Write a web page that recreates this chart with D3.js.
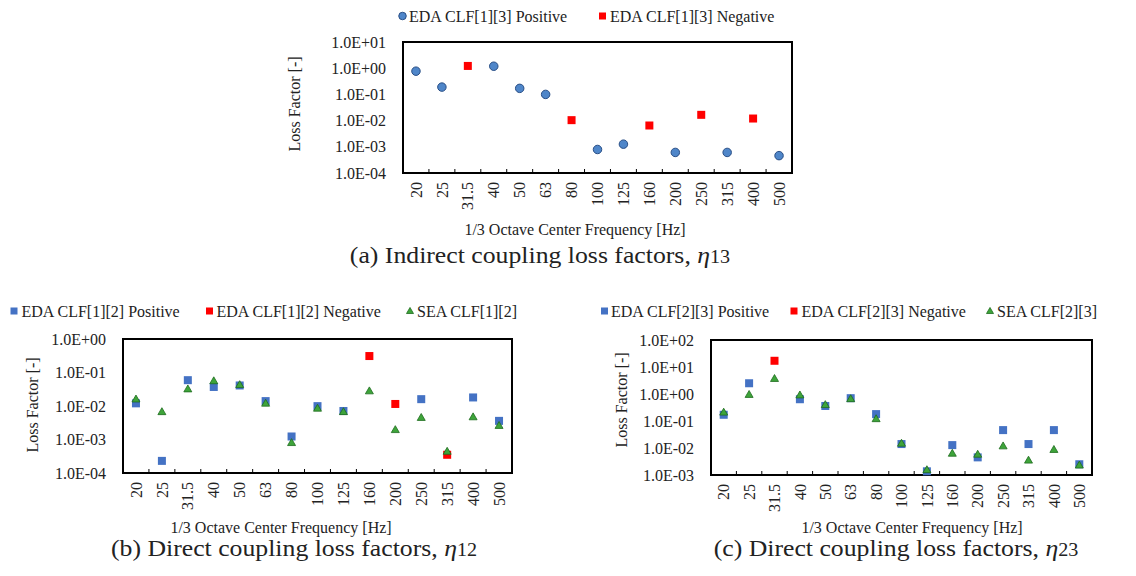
<!DOCTYPE html>
<html>
<head>
<meta charset="utf-8">
<script src="https://cdn.jsdelivr.net/npm/d3@7"></script>
<style>
  body { margin: 0; background: #fff; }
  text { font-family: "Liberation Serif", "Times New Roman", serif; fill: #222; }
</style>
</head>
<body>
<script>
// 1/3 octave bands
const freqs = ["20", "25", "31.5", "40", "50", "63", "80", "100", "125", "160", "200", "250", "315", "400", "500"];

// (a) eta13 - null where the band has no point of that kind
const eda13Pos = [0.77, 0.19, null, 1.19, 0.17, 0.10, null, 7.9e-4, 1.26e-3, null, 6.1e-4, null, 6.1e-4, null, 4.6e-4];
const eda13Neg = [null, null, 1.22, null, null, null, 0.0104, null, null, 0.0065, null, 0.0166, null, 0.012, null];

// (b) eta12
const eda12Pos = [0.012, 2.3e-4, 0.059, 0.037, 0.041, 0.014, 1.23e-3, 0.0099, 0.0071, null, null, 0.016, null, 0.018, 0.0036];
const eda12Neg = [null, null, null, null, null, null, null, null, null, 0.31, 0.0115, null, 3.5e-4, null, null];
const sea12 = [0.016, 0.0067, 0.032, 0.056, 0.043, 0.012, 8.0e-4, 0.0085, 0.0067, 0.028, 1.95e-3, 0.0045, 4.4e-4, 0.0047, 0.0026];

// (c) eta23
const eda23Pos = [0.17, 2.5, null, 0.64, 0.36, 0.70, 0.18, 0.014, 1.37e-3, 0.0128, 0.0045, 0.046, 0.014, 0.046, 0.0025];
const eda23Neg = [null, null, 17, null, null, null, null, null, null, null, null, null, null, null, null];
const sea23 = [0.21, 0.95, 3.7, 0.91, 0.40, 0.66, 0.12, 0.0148, 1.55e-3, 0.0063, 0.0058, 0.0118, 0.0035, 0.0087, 0.0023];

const svg = d3.select("body").append("svg")
  .attr("width", 1136)
  .attr("height", 576);

function fmtE(d) {
  const e = Math.round(Math.log10(d));
  return "1.0E" + (e < 0 ? "-" : "+") + String(Math.abs(e)).padStart(2, "0");
}

function marker(g, kind, cx, cy, s) {
  if (kind == "circle") {
    g.append("circle").attr("cx", cx).attr("cy", cy).attr("r", s / 2)
      .attr("fill", "#4f86c9").attr("stroke", "#2a4f86").attr("stroke-width", 1);
  } else if (kind == "blue") {
    g.append("rect").attr("x", cx - s / 2).attr("y", cy - s / 2).attr("width", s).attr("height", s)
      .attr("fill", "#4472c4");
  } else if (kind == "red") {
    g.append("rect").attr("x", cx - s / 2).attr("y", cy - s / 2).attr("width", s).attr("height", s)
      .attr("fill", "#ff0000");
  } else {
    // equilateral triangle, s = side
    g.append("path")
      .attr("d", d3.symbol().type(d3.symbolTriangle).size(0.433 * s * s)())
      .attr("transform", "translate(" + cx + "," + (cy + 0.5) + ")")
      .attr("fill", "#3ea43a").attr("stroke", "#1d6b1d").attr("stroke-width", 0.8);
  }
}

function drawPanel(p) {
  const g = svg.append("g");
  const x = d3.scaleBand().domain(freqs).range([p.x0, p.x1]).padding(0);
  const y = d3.scaleLog().domain(p.ydom).range([p.y1, p.y0]);
  const decades = d3.range(Math.log10(p.ydom[0]), Math.log10(p.ydom[1]) + 1).map(e => Math.pow(10, e));

  // y tick labels
  const ya = g.append("g").attr("transform", "translate(" + (p.x0 - 14) + ",0)")
    .call(d3.axisLeft(y).tickValues(decades).tickFormat(fmtE).tickSize(0));
  ya.select(".domain").remove();
  ya.selectAll("text").attr("font-size", 16).attr("font-family", "Liberation Serif").attr("fill", "#222");

  // x tick labels, rotated
  const xa = g.append("g").attr("transform", "translate(0," + (p.y1 + 9) + ")")
    .call(d3.axisBottom(x).tickSize(0));
  xa.select(".domain").remove();
  xa.selectAll("text")
    .attr("font-size", 16).attr("font-family", "Liberation Serif").attr("fill", "#222")
    .attr("transform", "rotate(-90)")
    .attr("text-anchor", "end")
    .attr("x", 0).attr("y", 0).attr("dy", "0.35em");

  // category boundary ticks, pointing in
  g.selectAll(".bt").data(freqs.slice(1)).join("line")
    .attr("x1", d => x(d)).attr("x2", d => x(d))
    .attr("y1", p.y1).attr("y2", p.y1 - 4)
    .attr("stroke", "#000").attr("stroke-width", 1);

  g.append("rect")
    .attr("x", p.x0).attr("y", p.y0)
    .attr("width", p.x1 - p.x0).attr("height", p.y1 - p.y0)
    .attr("fill", "none").attr("stroke", "#000").attr("stroke-width", 2);

  // series
  p.series.forEach(s => {
    s.values.forEach((v, i) => {
      if (v == null) return;
      marker(g, s.kind, x(freqs[i]) + x.bandwidth() / 2, y(v), s.size);
    });
  });

  // legend
  p.legend.forEach(l => {
    marker(g, l.kind, l.mx, p.ly, l.kind == "circle" ? 7.5 : 7);
    g.append("text").attr("x", l.tx).attr("y", p.ly + 5.5)
      .attr("font-size", 16).text(l.label);
  });

  g.append("text")
    .attr("transform", "translate(" + p.ylx + "," + p.yly + ") rotate(-90)")
    .attr("text-anchor", "middle").attr("font-size", 16)
    .text("Loss Factor [-]");

  g.append("text")
    .attr("x", p.xlx).attr("y", p.xly)
    .attr("text-anchor", "middle").attr("font-size", 16)
    .text("1/3 Octave Center Frequency [Hz]");

  // caption: the original face is wider than Liberation Serif, so stretch a bit
  const cap = g.append("text")
    .attr("transform", "translate(" + p.capx + "," + p.capy + ") scale(1.12,1)")
    .attr("text-anchor", "middle").attr("font-size", 23).attr("fill", "#111");
  cap.append("tspan").text(p.caption);
  cap.append("tspan").attr("font-style", "italic").text("η");
  cap.append("tspan").attr("font-size", 18).text(p.sub);
}

drawPanel({
  x0: 403, x1: 792, y0: 42, y1: 173, ydom: [1e-4, 1e1],
  series: [
    { kind: "circle", values: eda13Pos, size: 8.5 },
    { kind: "red", values: eda13Neg, size: 8 }
  ],
  ly: 16,
  legend: [
    { kind: "circle", mx: 402.5, tx: 409, label: "EDA CLF[1][3] Positive" },
    { kind: "red", mx: 602.5, tx: 610, label: "EDA CLF[1][3] Negative" }
  ],
  ylx: 300, yly: 104, xlx: 575, xly: 235,
  capx: 540, capy: 263, caption: "(a) Indirect coupling loss factors, ", sub: "13"
});

drawPanel({
  x0: 123, x1: 512, y0: 339, y1: 473, ydom: [1e-4, 1e0],
  series: [
    { kind: "blue", values: eda12Pos, size: 8 },
    { kind: "red", values: eda12Neg, size: 8 },
    { kind: "tri", values: sea12, size: 8 }
  ],
  ly: 311,
  legend: [
    { kind: "blue", mx: 14, tx: 21.5, label: "EDA CLF[1][2] Positive" },
    { kind: "red", mx: 209.5, tx: 216.5, label: "EDA CLF[1][2] Negative" },
    { kind: "tri", mx: 410, tx: 417, label: "SEA CLF[1][2]" }
  ],
  ylx: 38, yly: 405, xlx: 281, xly: 533,
  capx: 294, capy: 556, caption: "(b) Direct coupling loss factors, ", sub: "12"
});

drawPanel({
  x0: 711, x1: 1092, y0: 340, y1: 475, ydom: [1e-3, 1e2],
  series: [
    { kind: "blue", values: eda23Pos, size: 8 },
    { kind: "red", values: eda23Neg, size: 8 },
    { kind: "tri", values: sea23, size: 8 }
  ],
  ly: 311,
  legend: [
    { kind: "blue", mx: 604.5, tx: 611, label: "EDA CLF[2][3] Positive" },
    { kind: "red", mx: 794, tx: 801.5, label: "EDA CLF[2][3] Negative" },
    { kind: "tri", mx: 990, tx: 997, label: "SEA CLF[2][3]" }
  ],
  ylx: 627, yly: 400, xlx: 912, xly: 533,
  capx: 896, capy: 556, caption: "(c) Direct coupling loss factors, ", sub: "23"
});
</script>
</body>
</html>
